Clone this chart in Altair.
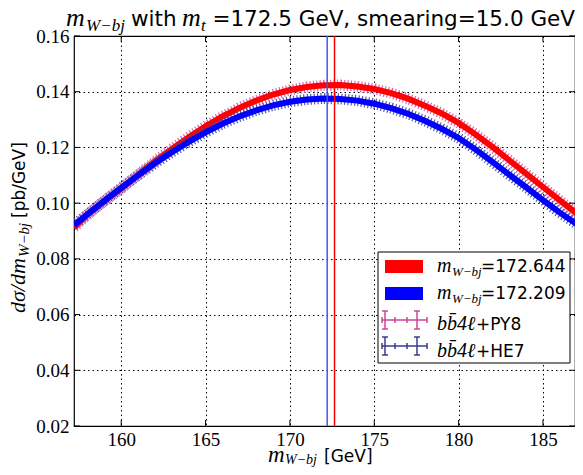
import altair as alt
import pandas as pd

# ---------------- data ----------------
x_vals = [157.2] + list(range(158, 188)) + [187.2]
py8_vals = [0.0912, 0.0959, 0.1008, 0.1052, 0.1102, 0.1150, 0.1195, 0.1237,
            0.1276, 0.1311, 0.1342, 0.1368, 0.1390, 0.1406, 0.1417, 0.1423,
            0.1424, 0.1419, 0.1410, 0.1395, 0.1375, 0.1350, 0.1322, 0.1288,
            0.1247, 0.1202, 0.1154, 0.1106, 0.1058, 0.1010, 0.0963, 0.0955]
he7_vals = [0.0921, 0.0960, 0.1008, 0.1055, 0.1100, 0.1143, 0.1183, 0.1220,
            0.1254, 0.1285, 0.1311, 0.1333, 0.1351, 0.1364, 0.1372, 0.1376,
            0.1374, 0.1368, 0.1357, 0.1341, 0.1321, 0.1296, 0.1267, 0.1234,
            0.1193, 0.1148, 0.1102, 0.1057, 0.1011, 0.0966, 0.0925, 0.0917]
fit_py8 = 172.644
fit_he7 = 172.209
x_ticks = [160, 165, 170, 175, 180, 185]
y_ticks = [0.02, 0.04, 0.06, 0.08, 0.10, 0.12, 0.14, 0.16]
x_domain = [157.2, 186.9]
y_domain = [0.02, 0.16]

# ---------------- styling ----------------
W, H = 501, 390
SANS = "DejaVu Sans"
SERIF = "Liberation Serif"
RED, BLUE = "#ff0000", "#0000ff"
PINK, NAVY = "#cc4499", "#3b3b8f"

xs = alt.Scale(domain=x_domain, nice=False, zero=False)
ys = alt.Scale(domain=y_domain, nice=False, zero=False)

x_axis = alt.Axis(values=x_ticks, format="d", title=None, grid=True,
                  gridDash=[1.5, 3], gridColor="black", gridOpacity=1,
                  gridWidth=1, ticks=False, domain=False,
                  labelFont=SERIF, labelFontSize=19, labelColor="black",
                  labelPadding=4)
y_axis = alt.Axis(values=y_ticks, format=".2f", title=None, grid=True,
                  gridDash=[1.5, 3], gridColor="black", gridOpacity=1,
                  gridWidth=1, ticks=False, domain=False,
                  labelFont=SERIF, labelFontSize=19, labelColor="black",
                  labelPadding=5)
X = alt.X("x:Q", scale=xs, axis=x_axis, title=None)
Y = alt.Y("y:Q", scale=ys, axis=y_axis, title=None)

df_py8 = pd.DataFrame({"x": x_vals, "y": py8_vals})
df_he7 = pd.DataFrame({"x": x_vals, "y": he7_vals})


def curve(df, err_color, line_color):
    err = alt.Chart(df).mark_line(color=err_color, strokeWidth=11,
                                  strokeDash=[1.2, 2.2], opacity=0.9,
                                  clip=True).encode(x=X, y=Y)
    line = alt.Chart(df).mark_line(color=line_color, strokeWidth=6,
                                   clip=True).encode(x=X, y=Y)
    return [err, line]


layers = []
layers += curve(df_py8, "#d655aa", RED)
layers += curve(df_he7, "#4a4a90", BLUE)

# fitted peak positions
layers.append(alt.Chart(pd.DataFrame({"x": [fit_he7]})).mark_rule(
    color="#4455ee", strokeWidth=1.5).encode(x=X))
layers.append(alt.Chart(pd.DataFrame({"x": [fit_py8]})).mark_rule(
    color=RED, strokeWidth=1.5).encode(x=X))

# inward ticks on all four sides
TL = 6
xt = pd.DataFrame({"x": x_ticks})
yt = pd.DataFrame({"y": y_ticks})
for y0, y1 in [(H, H - TL), (0, TL)]:
    layers.append(alt.Chart(xt).mark_rule(color="black", strokeWidth=1).encode(
        x=X, y=alt.value(y0), y2=alt.value(y1)))
for x0, x1 in [(0, TL), (W - TL, W)]:
    layers.append(alt.Chart(yt).mark_rule(color="black", strokeWidth=1).encode(
        y=Y, x=alt.value(x0), x2=alt.value(x1)))

# ---------------- legend ----------------
one = pd.DataFrame({"a": [0]})


def box(x0, x1, y0, y1, fill, stroke=None, sw=0):
    kw = dict(fill=fill)
    if stroke:
        kw.update(stroke=stroke, strokeWidth=sw)
    return alt.Chart(one).mark_rect(**kw).encode(
        x=alt.value(x0), x2=alt.value(x1), y=alt.value(y0), y2=alt.value(y1))


layers.append(box(304, 496, 216, 327, "white", "black", 1))
layers.append(box(311, 349, 224, 237, RED))
layers.append(box(311, 349, 251, 264, BLUE))

segs = []
for cy, col in [(284, PINK), (310, NAVY)]:
    segs.append((308, cy, 353, cy, col))
    for xx in (311, 343):
        segs.append((xx, cy - 9, xx, cy + 9, col))
        segs.append((xx - 3, cy - 9, xx + 3, cy - 9, col))
        segs.append((xx - 3, cy + 9, xx + 3, cy + 9, col))
    for xx in (308, 321, 333, 353):
        segs.append((xx, cy - 3, xx, cy + 3, col))
seg_df = pd.DataFrame(segs, columns=["px", "py", "px2", "py2", "c"])
layers.append(alt.Chart(seg_df).mark_rule(strokeWidth=1.5).encode(
    x=alt.X("px:Q", scale=None, axis=None), y=alt.Y("py:Q", scale=None, axis=None),
    x2="px2:Q", y2="py2:Q", color=alt.Color("c:N", scale=None)))

# ---------------- text pieces (title, axis titles, legend labels) ----------------
texts = [
    # title
    ("m", -8, -10, SERIF, 26, "italic", 0, "left"),
    ("W\u2212bj", 12, -5, SERIF, 17, "italic", 0, "left"),
    ("with", 57, -10, SANS, 21.5, "normal", 0, "left"),
    ("m", 108, -10, SERIF, 26, "italic", 0, "left"),
    ("t", 127, -5, SERIF, 17, "italic", 0, "left"),
    ("=172.5 GeV, smearing=15.0 GeV", 501, -10, SANS, 21.5, "normal", 0, "right"),
    # x title
    ("m", 194, 426, SERIF, 23, "italic", 0, "left"),
    ("W\u2212bj", 211, 428, SERIF, 14, "italic", 0, "left"),
    ("[GeV]", 250, 426, SANS, 17, "normal", 0, "left"),
    # y title
    ("d\u03c3/dm", -49, 277, SERIF, 22, "italic", 270, "left"),
    ("W\u2212bj", -45, 221, SERIF, 15, "italic", 270, "left"),
    ("[pb/GeV]", -49, 182, SANS, 17, "normal", 270, "left"),
    # legend labels
    ("m", 363, 236, SERIF, 20, "italic", 0, "left"),
    ("W\u2212bj", 378, 240, SERIF, 13, "italic", 0, "left"),
    ("=172.644", 407, 236, SANS, 17, "normal", 0, "left"),
    ("m", 363, 263, SERIF, 20, "italic", 0, "left"),
    ("W\u2212bj", 378, 267, SERIF, 13, "italic", 0, "left"),
    ("=172.209", 407, 263, SANS, 17, "normal", 0, "left"),
    ("bb\u03044\u2113", 363, 294, SERIF, 20, "italic", 0, "left"),
    ("+PY8", 402, 294, SANS, 17, "normal", 0, "left"),
    ("bb\u03044\u2113", 363, 321, SERIF, 20, "italic", 0, "left"),
    ("+HE7", 402, 321, SANS, 17, "normal", 0, "left"),
]
for t, x, y, font, size, style, ang, al in texts:
    layers.append(alt.Chart(pd.DataFrame({"t": [t]})).mark_text(
        font=font, fontSize=size, fontStyle=style, angle=ang, align=al,
        baseline="alphabetic", color="black").encode(
        text="t:N", x=alt.value(x), y=alt.value(y)))

chart = alt.layer(*layers).properties(
    width=W, height=H,
    background="white",
    autosize=alt.AutoSizeParams(type="none"),
    padding={"left": 66, "top": 28, "right": 0, "bottom": 41},
).configure_view(stroke="black", strokeWidth=1.2)

chart.save("out.html", embed_options={"renderer": "svg", "actions": False})
